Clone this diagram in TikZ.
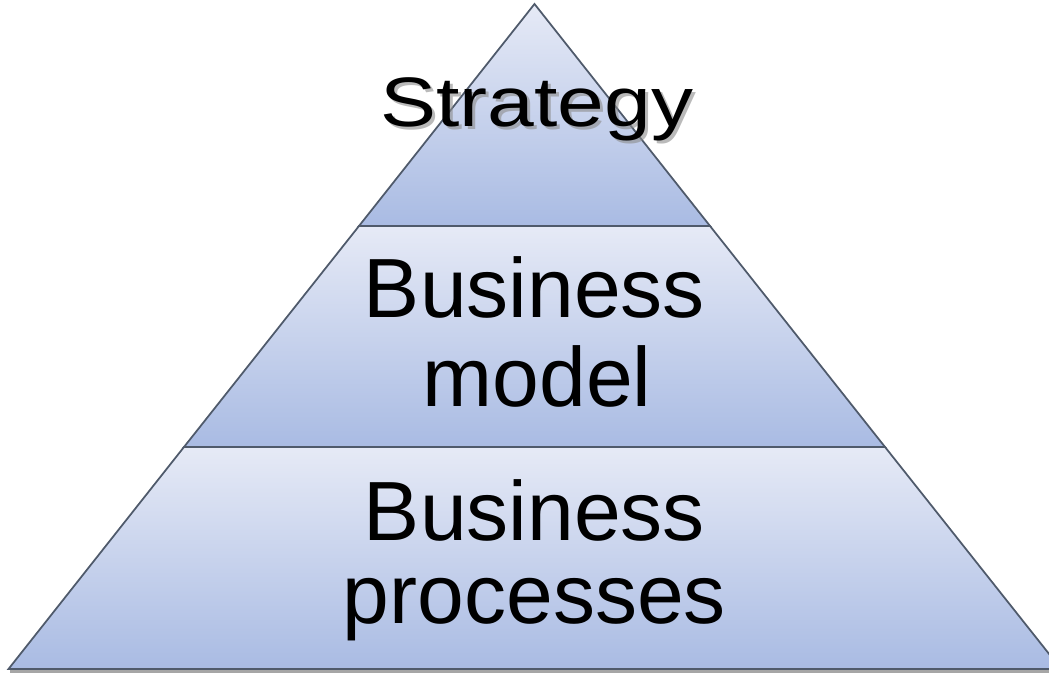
\documentclass[tikz,border=0pt]{standalone}
\usepackage{fontspec}
\setmainfont{Liberation Sans}
\definecolor{layertop}{HTML}{E6EAF6}
\definecolor{layerbot}{HTML}{A9BBE3}
\definecolor{edgegray}{HTML}{4F5A6B}

\begin{document}
\begin{tikzpicture}[x=0.01cm,y=-0.01cm,
    layer/.style={draw=edgegray, line width=0.5pt, top color=layertop, bottom color=layerbot},
    word/.style={anchor=base, inner sep=0pt, font=\fontsize{23.9}{26}\selectfont}]
  \useasboundingbox (0,0) rectangle (1049,674);
  \clip (0,0) rectangle (1049,674);
  % shadow under the base
  \fill[black!35] (10,669) rectangle (1049,673);
  % the three layers
  \draw[layer] (534.5,4) -- (710,226) -- (359,226) -- cycle;
  \draw[layer] (359,226) -- (710,226) -- (885,447) -- (184,447) -- cycle;
  \draw[layer] (184,447) -- (885,447) -- (1061,669) -- (8.5,669) -- cycle;
  % texts
  \node[word, text=black!45, opacity=0.6] (stratshadow) at (540,130)
    {\fontsize{19.9}{22}\selectfont\scalebox{1.2}[1]{Strategy}};
  \node[word] (strat) at (537,127)
    {\fontsize{19.9}{22}\selectfont\scalebox{1.2}[1]{Strategy}};
  \node[word] (bmone) at (534.5,318) {Business};
  \node[word] (bmtwo) at (537,407) {model};
  \node[word] (bpone) at (534.5,541) {Business};
  \node[word] (bptwo) at (534.5,624) {processes};
\end{tikzpicture}
\end{document}
